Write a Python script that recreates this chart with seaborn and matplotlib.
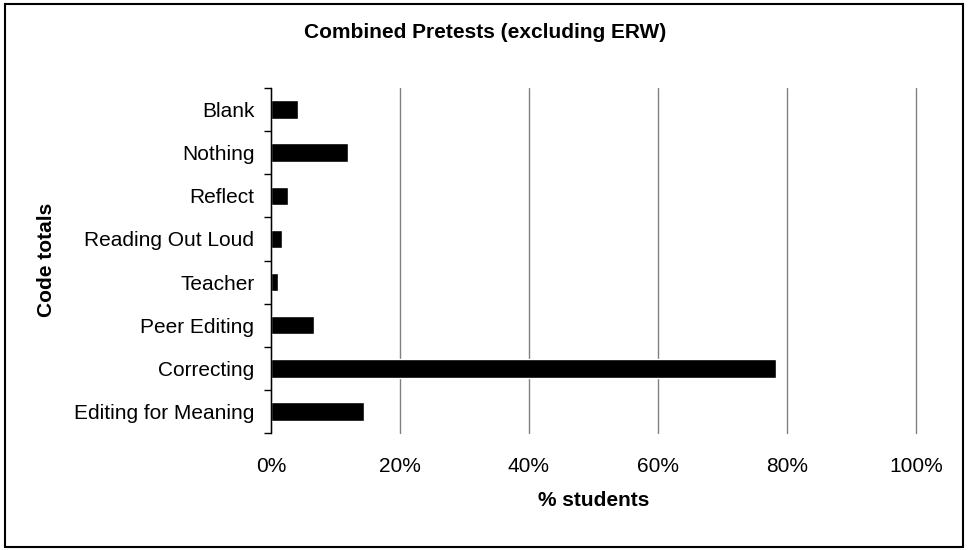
import matplotlib
matplotlib.use("Agg")
import matplotlib.pyplot as plt
import matplotlib.patches as patches
from matplotlib.ticker import PercentFormatter, FixedLocator
import seaborn as sns
import pandas as pd

categories = ["Blank", "Nothing", "Reflect", "Reading Out Loud", "Teacher",
              "Peer Editing", "Correcting", "Editing for Meaning"]
percent_students = [4.2, 12.0, 2.7, 1.7, 1.1, 6.7, 78.3, 14.4]

sns.set_style("white")
plt.rcParams['font.family'] = ['Liberation Sans', 'DejaVu Sans']
plt.rcParams['text.color'] = 'black'
plt.rcParams['axes.labelcolor'] = 'black'
plt.rcParams['xtick.color'] = 'black'
plt.rcParams['ytick.color'] = 'black'

W, H = 971, 550
df = pd.DataFrame({'Code': categories, 'Pct': percent_students})

fig = plt.figure(figsize=(W / 100, H / 100), dpi=100)
ax = fig.add_axes([271 / W, 1 - 433 / H, (916 - 271) / W, (433 - 88) / H])

sns.barplot(data=df, x='Pct', y='Code', color='black', width=0.43,
            saturation=1, ax=ax, order=categories)

ax.set_xlim(0, 100)
ax.set_ylim(len(categories) - 0.5, -0.5)
ax.xaxis.set_major_formatter(PercentFormatter(decimals=0))
ax.set_xticks([0, 20, 40, 60, 80, 100])
ax.grid(axis='x', color='#808080', linewidth=1)
ax.set_axisbelow(True)
for gl in ax.get_xgridlines():
    gl.set_clip_on(False)

# category ticks sit between the bars, labels in the middle
ax.yaxis.set_minor_locator(FixedLocator([i + 0.5 for i in range(-1, len(categories))]))
ax.tick_params(axis='y', which='major', left=False, length=0, pad=12, labelsize=15)
ax.tick_params(axis='y', which='minor', left=True, length=5, width=1, color='black', direction='out')
ax.tick_params(axis='x', length=0, pad=17, labelsize=15)

for s in ['top', 'right', 'bottom']:
    ax.spines[s].set_visible(False)
ax.spines['left'].set_color('black')
ax.spines['left'].set_linewidth(1)

ax.set_xlabel('')
ax.set_ylabel('')
fig.text(0.5, 1 - 33 / H, 'Combined Pretests (excluding ERW)', ha='center', va='center',
         fontsize=15, fontweight='bold')
fig.text((271 + 916) / 2 / W, 1 - 500 / H, '% students', ha='center', va='center',
         fontsize=15, fontweight='bold')
fig.text(46 / W, 1 - 260 / H, 'Code totals', ha='center', va='center', rotation=90,
         fontsize=15, fontweight='bold')

fig.patches.append(patches.Rectangle((5 / W, 3 / H), 958 / W, 543 / H,
                                     transform=fig.transFigure, fill=False,
                                     edgecolor='black', linewidth=1.5))

fig.savefig('out.png', dpi=100, facecolor='white')
plt.close()
